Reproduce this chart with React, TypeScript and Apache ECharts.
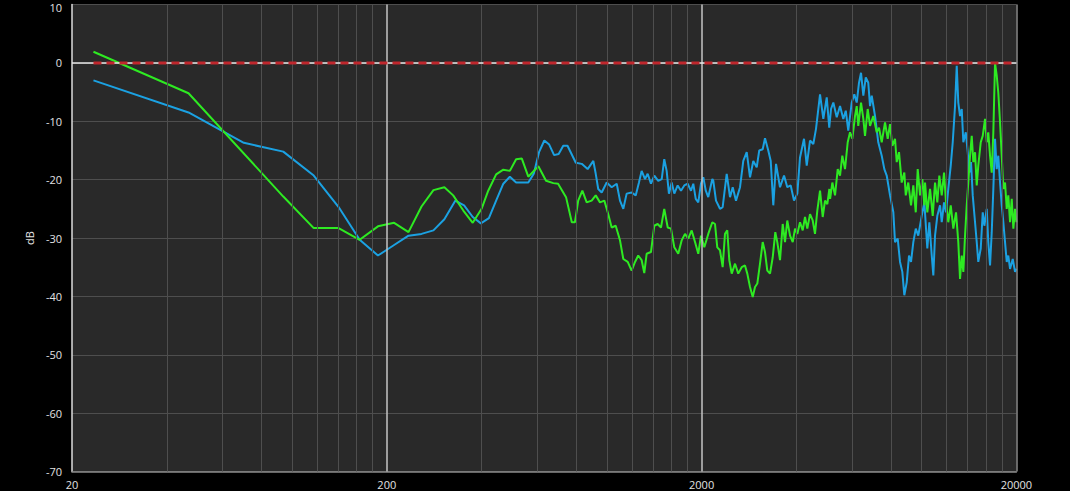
import React, { useEffect, useRef } from 'react';
import * as echarts from 'echarts';

// ---- Data (frequency in Hz, level in dB) ----
const blueFreq = [
  23.4, 46.9, 70.3, 93.8, 117.2, 140.6, 164, 187.5, 211, 234.4, 257.8, 281.3, 304.7,
  330, 352, 375, 398, 422, 445, 469, 492, 515, 563, 586, 609, 633, 656, 680, 703, 727, 750,
  797, 832, 869, 906, 922, 939, 963, 999, 1036, 1075, 1101, 1128, 1156, 1199, 1235, 1265,
  1290, 1322, 1348, 1381, 1415, 1456, 1494, 1522, 1549, 1575, 1607, 1638, 1679, 1720, 1762,
  1806, 1851, 1882, 1916, 1952, 1991, 2025, 2062, 2100, 2163, 2179, 2222, 2288, 2333, 2403,
  2462, 2511, 2572, 2649, 2713, 2782, 2850, 2919, 2993, 3049, 3127, 3180, 3257, 3316, 3379,
  3447, 3549, 3655, 3743, 3838, 3932, 4028, 4108, 4230, 4315, 4420, 4528, 4618, 4756, 4872,
  4995, 5088, 5154, 5242, 5374, 5505, 5639, 5741, 5847, 5997, 6112, 6220, 6325, 6419, 6528,
  6646, 6768, 6856, 6942, 7111, 7282, 7468, 7612, 7746, 7936, 8130, 8231, 8395, 8538, 8683,
  8810, 8967, 9118, 9253, 9410, 9580, 9758, 10007, 10200, 10424, 10580, 10767, 10893, 11030,
  11216, 11441, 11584, 11781, 11953, 12153, 12372, 12554, 12767, 12927, 13075, 13243, 13409,
  13566, 13811, 14010, 14175, 14352, 14532, 14779, 14963, 15134, 15408, 15635, 15824, 16099,
  16283, 16493, 16699, 16895, 17107, 17321, 17519, 17745, 17967, 18178, 18405, 18636, 18849,
  19092, 19470, 19802, 20000,
];
const blueDb = [
  -3.0, -8.5, -13.7, -15.2, -19.3, -24.7, -30.3, -33.0, -31.2, -29.6, -29.3, -28.7, -26.8,
  -23.6, -24.4, -26.4, -27.5, -26.6, -23.6, -20.7, -19.5, -20.5, -20.5, -19.0, -15.3, -13.3, -14.0, -15.8, -15.6, -14.2, -14.2,
  -17.1, -17.3, -18.2, -16.8, -19.0, -21.6, -22.2, -20.5, -21.3, -20.7, -23.6, -25.0, -22.4, -22.2, -22.7, -20.5,
  -18.5, -19.9, -19.0, -20.7, -19.3, -20.2, -19.9, -16.5, -18.5, -22.4, -20.5, -22.4, -21.0, -21.9, -21.0,
  -20.7, -21.9, -20.7, -23.3, -23.9, -20.7, -19.6, -21.9, -23.0, -19.9, -20.2, -23.6, -25.0, -24.7, -19.0,
  -23.0, -21.3, -23.6, -21.3, -16.8, -15.3, -19.6, -16.8, -17.9, -15.0, -14.8, -12.9, -15.0, -16.8, -24.4,
  -17.3, -21.3, -19.3, -21.3, -21.0, -23.6, -22.4, -16.2, -13.0, -17.6, -13.3, -13.9, -11.3, -5.4, -9.6,
  -5.9, -11.1, -7.9, -6.8, -9.3, -7.4, -9.6, -8.2, -11.6, -6.8, -5.4, -6.8, -3.4, -1.7, -5.6,
  -2.5, -3.4, -7.4, -5.6, -9.1, -13.6, -15.9, -18.2, -19.3, -22.7, -25.6, -30.7, -30.1, -34.1, -35.8,
  -39.8, -37.6, -33.0, -34.1, -30.7, -28.4, -29.6, -26.2, -23.9, -31.8, -27.3, -33.0, -36.4, -29.6,
  -26.2, -24.4, -27.3, -23.9, -25.6, -21.6, -17.6, -13.6, -7.4, -0.5, -6.8, -9.1, -7.9,
  -13.6, -11.9, -15.3, -18.8, -17.0, -22.7, -27.3, -30.7, -34.1, -31.8, -25.6, -27.9, -25.0,
  -30.7, -34.7, -29.0, -21.6, -13.0, -18.2, -15.9, -20.5, -24.4, -27.3, -30.7, -34.1, -33.0,
  -35.3, -33.6, -35.8, -35.3,
];

const greenFreq = [
  23.4, 46.9, 93.8, 117.2, 140.6, 164, 187.5, 211, 234.4, 257.8, 281.3, 304.7,
  325, 350, 375, 400, 420, 445, 469, 492, 515, 537, 563, 606, 641, 676, 700, 742, 774,
  792, 811, 836, 863, 895, 922, 951, 982, 1010, 1036, 1067, 1101, 1128, 1165, 1199, 1229,
  1258, 1290, 1315, 1338, 1381, 1415, 1450, 1486, 1522, 1561, 1599, 1638, 1686, 1729, 1771,
  1814, 1860, 1906, 1952, 1991, 2040, 2100, 2163, 2206, 2243, 2288, 2333, 2373, 2413, 2449,
  2493, 2554, 2615, 2682, 2747, 2794, 2850, 2907, 2956, 3006, 3066, 3127, 3180, 3234, 3299,
  3365, 3429, 3479, 3549, 3620, 3681, 3743, 3819, 3895, 3961, 4028, 4108, 4190, 4261, 4333,
  4420, 4508, 4584, 4662, 4756, 4850, 4933, 5016, 5091, 5120, 5204, 5307, 5413, 5505, 5598,
  5710, 5823, 5923, 6023, 6143, 6220, 6291, 6419, 6528, 6609, 6740, 6856, 7023, 7200, 7322,
  7468, 7650, 7802, 7936, 8071, 8231, 8334, 8475, 8645, 8810, 8904, 9069, 9253, 9410, 9580,
  9717, 9884, 10052, 10200, 10252, 10424, 10634, 10846, 11030, 11216, 11383, 11584, 11781,
  11953, 12153, 12372, 12609, 12860, 13075, 13243, 13409, 13566, 13736, 13908, 14067, 14248,
  14426, 14596, 14779, 14963, 15134, 15408, 15635, 15900, 16099, 16283, 16493, 16699, 16895,
  17107, 17321, 17519, 17745, 17967, 18178, 18405, 18636, 18849, 19092, 19331, 19558, 19802, 20000,
];
const greenDb = [
  1.9, -5.2, -22.9, -28.3, -28.3, -30.3, -28.0, -27.4, -29.0, -24.6, -21.8, -21.3,
  -22.7, -25.3, -27.4, -25.0, -21.9, -19.1, -18.3, -18.5, -16.5, -16.4, -19.5, -17.7, -20.2, -20.6, -20.7, -23.0, -27.3,
  -27.3, -23.6, -21.9, -23.9, -23.6, -22.7, -23.9, -23.6, -25.9, -28.2, -27.9, -30.4, -33.6, -34.1, -35.6, -34.1,
  -33.0, -33.8, -36.0, -32.7, -32.4, -27.9, -27.6, -28.2, -25.0, -28.2, -28.4, -31.6, -32.7, -30.4, -29.3,
  -30.1, -28.7, -30.7, -32.7, -29.6, -31.6, -29.3, -27.3, -27.6, -31.6, -32.1, -35.0, -29.3, -28.7, -33.8,
  -36.1, -34.4, -36.1, -35.0, -34.7, -36.1, -38.4, -40.1, -38.4, -37.8, -34.4, -30.7, -32.4, -35.6, -36.1,
  -33.3, -29.0, -30.7, -33.8, -27.6, -30.7, -27.0, -29.6, -30.7, -28.4, -29.3, -27.3, -28.7, -26.4, -28.4,
  -25.9, -27.0, -29.3, -25.3, -21.9, -26.4, -23.6, -24.2, -21.6, -23.3, -20.5, -22.7, -18.2, -19.3, -15.9,
  -18.2, -13.6, -11.9, -13.0, -9.1, -7.4, -10.8, -6.8, -9.6, -12.5, -7.9, -10.8, -9.1, -11.9, -11.1,
  -13.6, -10.2, -13.0, -10.5, -14.2, -13.0, -17.0, -15.3, -20.5, -18.8, -22.7, -20.5, -24.4, -21.0, -25.6,
  -18.2, -22.7, -19.9, -24.4, -20.5, -25.6, -21.6, -26.2, -20.5, -23.9, -19.3, -22.7, -18.8,
  -23.9, -27.3, -24.4, -28.4, -25.6, -30.7, -37.0, -33.0, -35.8, -29.6, -24.4, -20.5, -15.9,
  -12.5, -17.0, -15.3, -21.0, -17.6, -13.6, -12.5, -9.6, -13.6, -11.9, -15.9, -18.8, -11.9,
  0, -2.2, -5.1, -10.2, -15.9, -21.6, -20.5, -25.0, -22.7, -27.3, -23.3, -28.4, -25.0, -27.3,
];

const refFreq = [23.4, 20000];
const refDb = [0, 0];

const xLabelValues = [20, 200, 2000, 20000];
const yMin = -70;
const yMax = 10;
const yStep = 10;
const minorGridFreq = [
  40, 60, 80, 100, 120, 140, 160, 180,
  400, 600, 800, 1000, 1200, 1400, 1600, 1800,
  4000, 6000, 8000, 10000, 12000, 14000, 16000, 18000,
];
const majorGridFreq = [200, 2000];
const edgeGridFreq = [20000];
const zeroLineDb = [0];

const FONT = '"Open Sans", "Noto Sans", sans-serif';
const TEXT = '#e2e2e2';

function pairs(xs: number[], ys: number[]) {
  return xs.map((x, i) => [x, ys[i]]);
}

export default function App() {
  const ref = useRef<HTMLDivElement>(null);

  useEffect(() => {
    document.body.style.margin = '0';
    document.body.style.background = '#000';
    const chart = echarts.init(ref.current!, null, { renderer: 'svg' });

    const gridLines = [
      ...minorGridFreq.map((f) => ({ xAxis: f, lineStyle: { color: '#4e4e4e', width: 1 } })),
      ...majorGridFreq.map((f) => ({ xAxis: f, lineStyle: { color: '#c4c4c4', width: 1.5 } })),
      ...edgeGridFreq.map((f) => ({ xAxis: f, lineStyle: { color: '#8a8a8a', width: 1.5 } })),
      ...zeroLineDb.map((v) => ({ yAxis: v, lineStyle: { color: '#e8e8e8', width: 1.5 } })),
    ];

    chart.setOption({
      animation: false,
      backgroundColor: '#000000',
      grid: {
        left: 72,
        right: 53.6,
        top: 4.5,
        bottom: 19.5,
        show: true,
        backgroundColor: '#292929',
        borderWidth: 0,
        containLabel: false,
        outerBoundsMode: 'none',
      },
      xAxis: {
        type: 'log',
        logBase: 10,
        min: 20,
        max: 20000,
        axisLine: { show: true, onZero: false, lineStyle: { color: '#8a8a8a', width: 1.5 } },
        axisTick: { show: false },
        splitLine: { show: false },
        minorTick: { show: false },
        minorSplitLine: { show: false },
        axisLabel: {
          customValues: xLabelValues,
          formatter: (v: number) => String(Math.round(v)),
          color: TEXT,
          fontSize: 11,
          fontFamily: FONT,
          margin: 7,
        },
      },
      yAxis: {
        type: 'value',
        min: yMin,
        max: yMax,
        interval: yStep,
        name: 'dB',
        nameLocation: 'middle',
        nameGap: 24,
        nameRotate: 90,
        nameTextStyle: { color: TEXT, fontSize: 11, fontFamily: FONT },
        axisLine: { show: true, lineStyle: { color: '#dcdcdc', width: 1.5 } },
        axisTick: { show: false },
        axisLabel: {
          color: TEXT,
          fontSize: 11,
          fontFamily: FONT,
          margin: 10,
          formatter: (v: number) => (v === yMax ? `{top|${v}}` : String(v)),
          rich: {
            top: { color: TEXT, fontSize: 11, fontFamily: FONT, padding: [5, 0, 0, 0] },
          },
        },
        splitLine: { show: true, lineStyle: { color: '#4e4e4e', width: 1 } },
      },
      series: [
        {
          type: 'line',
          data: pairs(refFreq, refDb),
          showSymbol: false,
          silent: true,
          lineStyle: { opacity: 0 },
          z: 1,
          markLine: {
            silent: true,
            symbol: ['none', 'none'],
            label: { show: false },
            lineStyle: { type: 'solid' },
            data: gridLines,
          },
        },
        {
          type: 'line',
          data: pairs(blueFreq, blueDb),
          showSymbol: false,
          silent: true,
          lineStyle: { color: '#1ba1e2', width: 2 },
          z: 3,
        },
        {
          type: 'line',
          data: pairs(greenFreq, greenDb),
          showSymbol: false,
          silent: true,
          lineStyle: { color: '#2eea22', width: 2 },
          z: 4,
        },
        {
          type: 'line',
          data: pairs(refFreq, refDb),
          showSymbol: false,
          silent: true,
          lineStyle: { color: '#c0272d', width: 3, type: [8, 5] },
          z: 5,
        },
      ],
    });

    return () => chart.dispose();
  }, []);

  return <div ref={ref} style={{ width: 1070, height: 491, background: '#000' }} />;
}
